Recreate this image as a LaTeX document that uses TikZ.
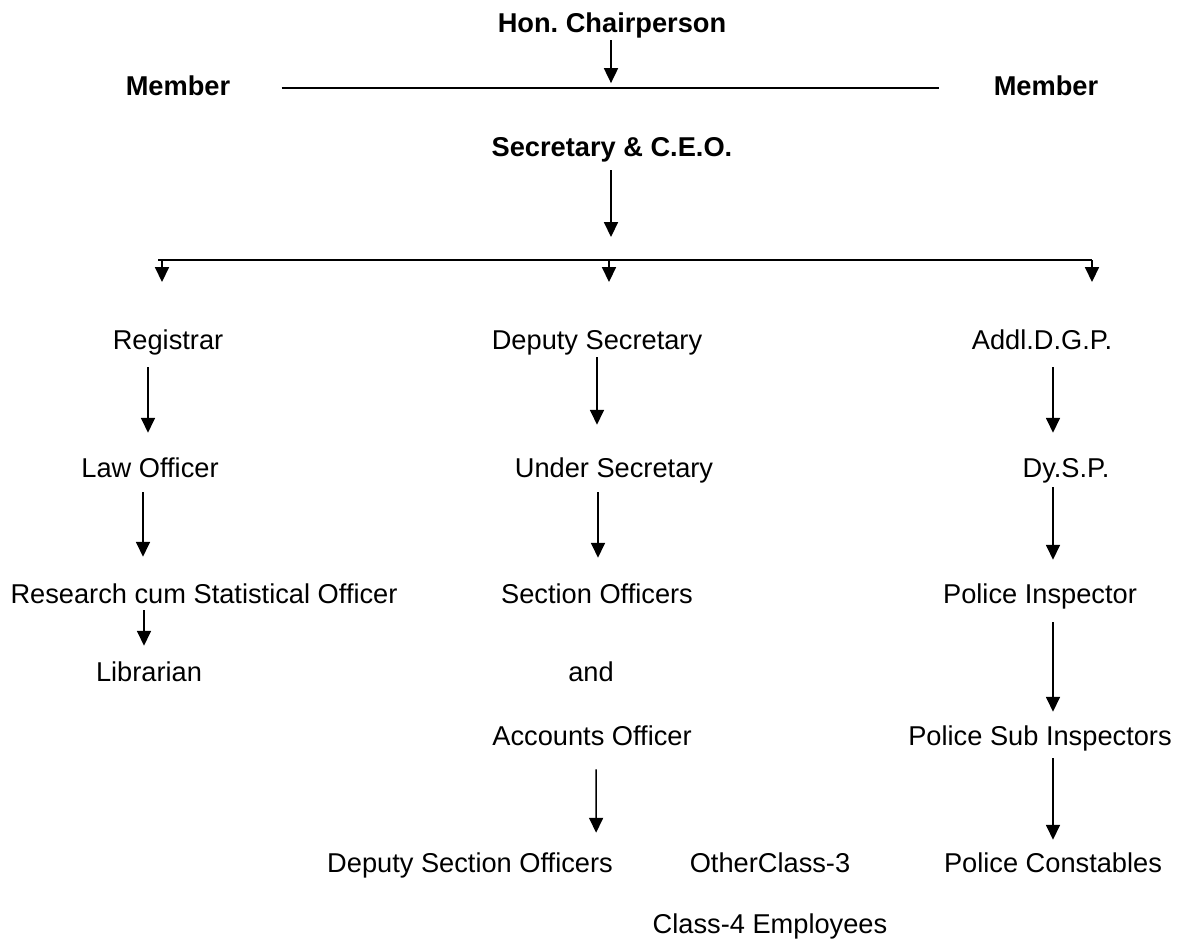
\documentclass[tikz,border=0pt]{standalone}
\usepackage{fontspec}
\setmainfont{Liberation Sans}
\frenchspacing
\usetikzlibrary{arrows.meta,calc}
\tikzset{
  post/.style={font=\fontsize{15.5pt}{18pt}\selectfont, inner sep=0pt, anchor=base,
    text height=11.34pt, text depth=3.4pt},
  head/.style={post, font=\fontsize{15.5pt}{18pt}\selectfont\bfseries},
  arr/.style={line width=0.85pt, -{Triangle[length=8.5pt,width=8pt]}},
  bar/.style={line width=1.1pt},
}

\begin{document}
\begin{tikzpicture}[x=0.02cm, y=-0.02cm]
  \useasboundingbox (0,0) rectangle (1180,944);

  % Top level
  \node[head] (chair) at (612,32) {Hon. Chairperson};
  \node[head] (meml) at (178,95) {Member};
  \node[head] (memr) at (1046,95) {Member};
  \node[head] (sec) at (612,156) {Secretary \& C.E.O.};

  \draw[bar] ($(meml.east)+(51,0)$) -- ($(memr.west)+(-54,0)$);
  \draw[arr, shorten >=2.8pt] ($(chair.south)+(-1,2)$) -- ($(chair.south |- meml.east)+(-1,0)$);

  % Branch bar
  \coordinate (barL) at (158,260);
  \coordinate (barR) at (1092,260);
  \draw[bar] (barL) -- (barR);
  \draw[arr] ($(sec.south)+(-1,8)$) -- ($(sec.south |- barL)+(-1,-23)$);
  \draw[arr] ($(barL)+(4,0)$) -- ++(0,22);
  \draw[arr] ($(sec.south |- barL)+(-3,0)$) -- ++(0,22);
  \draw[arr] (barR) -- ++(0,22);

  % Left column
  \node[post] (reg) at (168,349) {Registrar};
  \node[post] (law) at (150,477) {Law Officer};
  \node[post] (rso) at (204,603) {Research cum Statistical Officer};
  \node[post] (lib) at (149,681) {Librarian};

  % Middle column
  \node[post] (dsec) at (597,349) {Deputy Secretary};
  \node[post] (usec) at (614,477) {Under Secretary};
  \node[post] (soff) at (597,603) {Section Officers};
  \node[post] (and) at (591,681) {and};
  \node[post] (acc) at (592,745) {Accounts Officer};
  \node[post] (dso) at (470,872) {Deputy Section Officers};
  \node[post] (oc3) at (770,872) {OtherClass-3};
  \node[post] (c4) at (770,933) {Class-4 Employees};

  % Right column
  \node[post] (adgp) at (1042,349) {Addl.D.G.P.};
  \node[post] (dysp) at (1066,477) {Dy.S.P.};
  \node[post] (pi) at (1040,603) {Police Inspector};
  \node[post] (psi) at (1040,745) {Police Sub Inspectors};
  \node[post] (pc) at (1053,872) {Police Constables};

  \draw[arr] ($(reg.south)+(-20,12)$) -- ($(law.north)+(-2,-24)$);
  \draw[arr] ($(law.south)+(-7,9)$) -- ($(rso.north)+(-61,-26)$);
  \draw[arr] ($(rso.south)+(-60,1)$) -- ($(lib.north)+(-5,-15)$);

  \draw[arr] ($(dsec.south)+(0,2)$) -- ($(usec.north)+(-17,-32)$);
  \draw[arr] ($(usec.south)+(-16,9)$) -- ($(soff.north)+(1,-25)$);
  \draw[arr] ($(acc.south)+(4,18)$) -- ($(dso.north east)+(-17,-19)$);

  \draw[arr] ($(adgp.south)+(11,12)$) -- ($(dysp.north)+(-13,-24)$);
  \draw[arr] ($(dysp.south)+(-13,4)$) -- ($(pi.north)+(13,-23)$);
  \draw[arr] ($(pi.south)+(13,13)$) -- ($(psi.north)+(13,-13)$);
  \draw[arr] ($(psi.south)+(13,7)$) -- ($(pc.north)+(0,-12)$);
\end{tikzpicture}
\end{document}
